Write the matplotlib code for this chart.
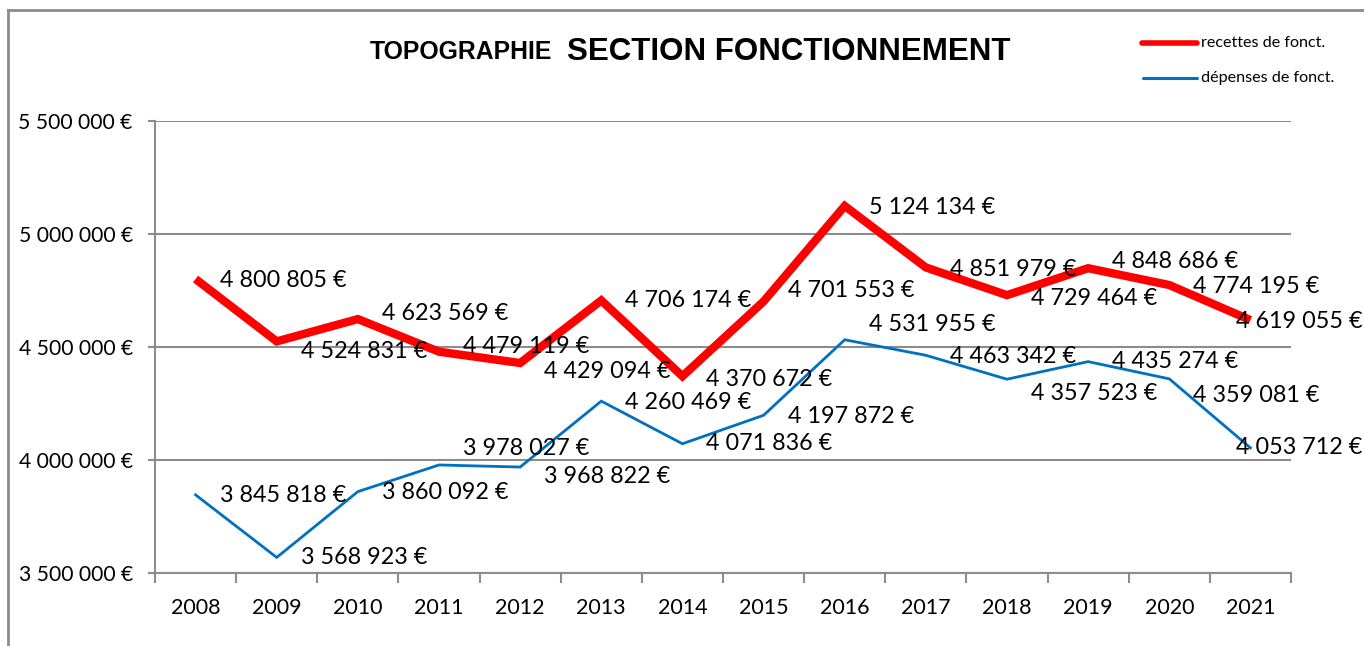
import matplotlib
matplotlib.use("Agg")
import matplotlib.pyplot as plt
from matplotlib.lines import Line2D

years = ["2008", "2009", "2010", "2011", "2012", "2013", "2014",
         "2015", "2016", "2017", "2018", "2019", "2020", "2021"]
recettes = [4800805, 4524831, 4623569, 4479119, 4429094, 4706174, 4370672,
            4701553, 5124134, 4851979, 4729464, 4848686, 4774195, 4619055]
depenses = [3845818, 3568923, 3860092, 3978027, 3968822, 4260469, 4071836,
            4197872, 4531955, 4463342, 4357523, 4435274, 4359081, 4053712]
y_ticks = [3500000, 4000000, 4500000, 5000000, 5500000]

# label offsets in pixels (dx, dy image-down)
rec_dy = [1, 10, -6, -5, 8, 0, 3, -11, 2, 2, 3, -7, 1, 1]
dep_dy = [1, 0, 1, -16, 9, 1, 0, 1, -15, 1, 14, 0, 17, 0]
dx = [24] * 13 + [-14]

def fmt(v):
    return f"{v:,.0f}".replace(",", " ") + " €"

FONT = ["Lato", "DejaVu Sans"]
RED = "#FF0000"
BLUE = "#0070C0"
GRID = "#8C8C8C"

fig = plt.figure(figsize=(13.64, 6.46), dpi=100)
ax = fig.add_axes([155/1364, 73/646, (1291-155)/1364, (573-121)/646])

xs = [i + 0.5 for i in range(len(years))]
ax.plot(xs, recettes, color=RED, lw=6, solid_capstyle="butt", solid_joinstyle="miter", zorder=3)
ax.plot(xs, depenses, color=BLUE, lw=2, solid_joinstyle="miter", zorder=3)

for x, v, d, ddx in zip(xs, recettes, rec_dy, dx):
    ax.annotate(fmt(v), (x, v), xytext=(ddx, -d), textcoords="offset pixels",
                ha="left", va="center", fontsize=16.8, family=FONT, color="black",
                zorder=5, annotation_clip=False)
for x, v, d, ddx in zip(xs, depenses, dep_dy, dx):
    ax.annotate(fmt(v), (x, v), xytext=(ddx, -d), textcoords="offset pixels",
                ha="left", va="center", fontsize=16.8, family=FONT, color="black",
                zorder=5, annotation_clip=False)

ax.set_xlim(0, len(years))
ax.set_ylim(3500000, 5500000)
ax.set_yticks(y_ticks)
ax.set_yticklabels([fmt(v) for v in y_ticks], family=FONT, fontsize=15.2)
ax.set_xticks(xs)
ax.set_xticklabels(years, family=FONT, fontsize=15.5)
ax.tick_params(axis="x", length=0, pad=18)
ax.tick_params(axis="y", length=5, width=1.5, color=GRID, pad=11)
ax.set_xticks(range(len(years) + 1), minor=True)
ax.tick_params(axis="x", which="minor", length=7, width=1.5, color=GRID, direction="out")
ax.grid(axis="y", color=GRID, lw=1.5, zorder=0)
for s in ["top", "right"]:
    ax.spines[s].set_visible(False)
for s in ["left", "bottom"]:
    ax.spines[s].set_color(GRID)
    ax.spines[s].set_linewidth(1.5)

# title
fig.text(370/1364, 1 - 59/646, "TOPOGRAPHIE", fontsize=17.8, fontweight="bold",
         family=["Liberation Sans", "DejaVu Sans"], ha="left", va="baseline")
fig.text(567/1364, 1 - 60/646, "SECTION FONCTIONNEMENT", fontsize=22.5, fontweight="bold",
         family=["Liberation Sans", "DejaVu Sans"], ha="left", va="baseline")

# legend
fig.add_artist(Line2D([1142/1364, 1197/1364], [1 - 43/646, 1 - 43/646], color=RED, lw=4,
                      solid_capstyle="round", transform=fig.transFigure))
fig.add_artist(Line2D([1143/1364, 1197/1364], [1 - 78/646, 1 - 78/646], color=BLUE, lw=2.2,
                      solid_capstyle="round", transform=fig.transFigure))
fig.text(1201/1364, 1 - 43/646, "recettes de fonct.", fontsize=11.6, family=FONT, ha="left", va="center")
fig.text(1201/1364, 1 - 78/646, "dépenses de fonct.", fontsize=11.6, family=FONT, ha="left", va="center")

# outer frame
fig.add_artist(Line2D([8/1364, 8/1364], [0, 1 - 10/646], color=GRID, lw=2, transform=fig.transFigure))
fig.add_artist(Line2D([8/1364, 1], [1 - 10/646, 1 - 10/646], color=GRID, lw=2, transform=fig.transFigure))

fig.savefig("out.png", dpi=100)
